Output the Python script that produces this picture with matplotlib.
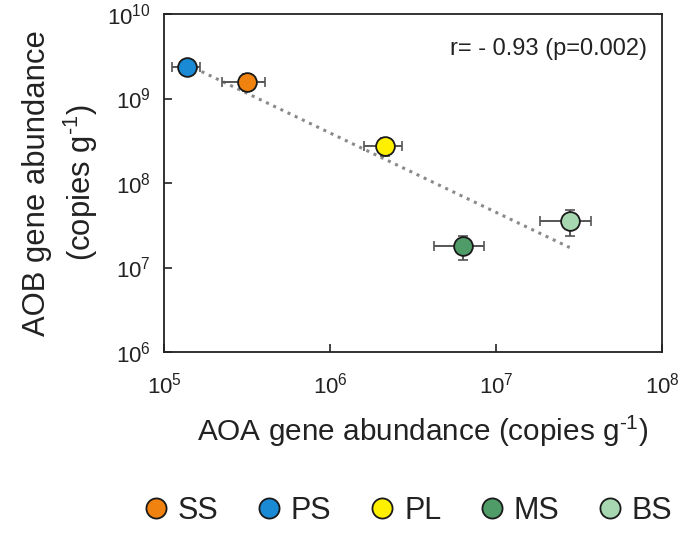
import numpy as np
import matplotlib
matplotlib.use("Agg")
import matplotlib.pyplot as plt
from matplotlib.lines import Line2D
from matplotlib.ticker import FixedLocator, FuncFormatter, NullLocator

fam = 'Liberation Sans'
plt.rcParams['font.family'] = [fam, 'DejaVu Sans']
plt.rcParams['mathtext.fontset'] = 'custom'
plt.rcParams['mathtext.rm'] = fam
plt.rcParams['mathtext.it'] = fam
plt.rcParams['mathtext.bf'] = fam

# Data
sites = ['SS', 'PS', 'PL', 'MS', 'BS']
colors = ['#f0820f', '#1a8ad4', '#fff000', '#4f9c69', '#a6d7b0']
aoa = [3.15e5, 1.38e5, 2.15e6, 6.35e6, 2.78e7]
aoa_err = [0.92e5, 0.27e5, 0.55e6, 2.1e6, 0.95e7]
aob = [1.58e9, 2.34e9, 2.77e8, 1.81e7, 3.55e7]
aob_err = [0.35e9, 0.25e9, 0.67e8, 0.57e7, 1.2e7]
r_text = 'r= - 0.93 (p=0.002)'
x_ticks = [1e5, 1e6, 1e7, 1e8]
y_ticks = [1e6, 1e7, 1e8, 1e9, 1e10]

fig = plt.figure(figsize=(6.86, 5.37), dpi=100)
ax = fig.add_axes([164/686, 1-352/537, 498/686, 338/537])
ax.set_xscale('log')
ax.set_yscale('log')
ax.set_xlim(1e5, 1e8)
ax.set_ylim(1e6, 1e10)

# regression line in log-log space
lx = np.log10(aoa)
ly = np.log10(aob)
slope, intercept = np.polyfit(lx, ly, 1)
xs = np.array([lx.min(), lx.max()])
ax.plot(10**xs, 10**(slope*xs+intercept), linestyle=(0, (1, 1.6)),
        color='#8a8a8a', lw=2.2, zorder=2)

for i in range(len(sites)):
    ax.errorbar(aoa[i], aob[i], xerr=aoa_err[i], yerr=aob_err[i], fmt='none',
                ecolor='#555555', elinewidth=1.4, capsize=3.5, capthick=1.2, zorder=3)
    ax.plot(aoa[i], aob[i], 'o', ms=13.5, mfc=colors[i], mec='#1a1a1a', mew=1.3, zorder=4)

def fmt(v, pos):
    return r'$\mathregular{10^{%d}}$' % int(round(np.log10(v)))

ax.xaxis.set_major_locator(FixedLocator(x_ticks))
ax.yaxis.set_major_locator(FixedLocator(y_ticks))
ax.xaxis.set_minor_locator(NullLocator())
ax.yaxis.set_minor_locator(NullLocator())
ax.xaxis.set_major_formatter(FuncFormatter(fmt))
ax.yaxis.set_major_formatter(FuncFormatter(fmt))
ax.tick_params(direction='in', length=6, width=1.2, labelsize=16, colors='#222222')
ax.tick_params(axis='x', pad=15)
ax.tick_params(axis='y', pad=9.5)
for s in ax.spines.values():
    s.set_linewidth(1.3)
    s.set_color('#222222')

ax.text(0.97, 0.895, r_text, transform=ax.transAxes, ha='right', va='center',
        fontsize=17, color='#222222')

sup = r'$^{\text{-1}}$'
ax.set_xlabel('AOA gene abundance (copies g' + sup + ')', fontsize=21.4,
              color='#222222', labelpad=10)
ax.xaxis.set_label_coords(0.52, -0.183)
ax.set_ylabel('AOB gene abundance\n(copies g' + sup + ')', fontsize=22.3,
              color='#222222', labelpad=5, linespacing=1.35)

handles = [Line2D([], [], marker='o', ls='none', ms=14.5, mfc=c, mec='#1a1a1a', mew=1.3)
           for c in colors]
fig.legend(handles, sites, loc='center', bbox_to_anchor=(0.597, 1-511/537), ncol=5,
           frameon=False, fontsize=22, handletextpad=0.42, columnspacing=1.35,
           handlelength=0.6, labelcolor='#222222')

fig.savefig('out.png', dpi=100)
